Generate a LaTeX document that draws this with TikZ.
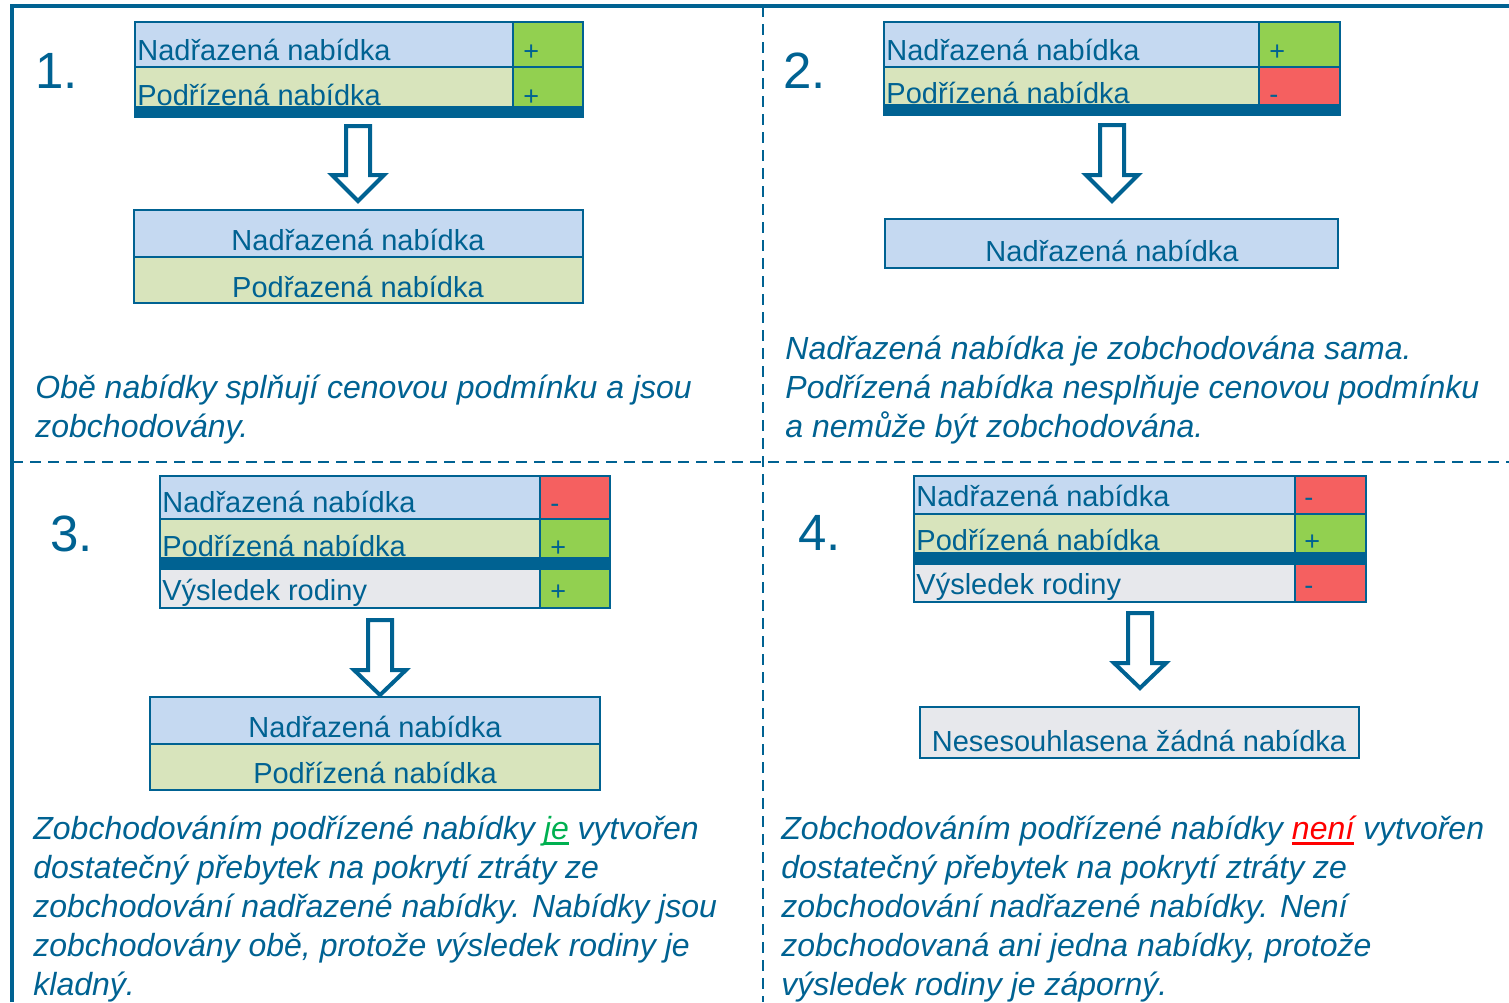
\documentclass[tikz,border=0pt]{standalone}
\usepackage{fontspec}
\setmainfont{Liberation Sans}
\usepackage{tikz}
\usetikzlibrary{calc}

\definecolor{navy}{RGB}{0,98,146}
\definecolor{rowblue}{RGB}{197,217,241}
\definecolor{rowgreen}{RGB}{216,228,188}
\definecolor{rowgrey}{RGB}{231,232,236}
\definecolor{plusgreen}{RGB}{146,208,80}
\definecolor{minusred}{RGB}{245,96,96}
\definecolor{okgreen}{RGB}{0,176,80}
\definecolor{nored}{RGB}{255,0,0}

% thick underline in the current colour
\newcommand{\markword}[1]{\setbox0\hbox{#1}\rlap{\rule[-2.4pt]{\wd0}{1.4pt}}\box0}

\tikzset{
  cell/.style={draw=navy, line width=1.2pt},
  rowtext/.style={anchor=base west, inner sep=0pt, text=navy, font=\fontsize{14.5}{17}\selectfont},
  midtext/.style={anchor=base, inner sep=0pt, text=navy, font=\fontsize{14.5}{17}\selectfont},
  signtext/.style={anchor=base west, inner sep=0pt, text=navy, font=\fontsize{13.5}{16}\selectfont},
  numtext/.style={anchor=base west, inner sep=0pt, text=navy, font=\fontsize{25.5}{30}\selectfont},
  caption/.style={anchor=base west, inner sep=0pt, text=navy, align=left, font=\fontsize{16}{19.4}\selectfont\itshape},
  blockarrow/.style={draw=navy, line width=2pt, fill=white, line join=miter},
  divider/.style={draw=navy, line width=1pt, dash pattern=on 5.5pt off 3.5pt}
}

\begin{document}
\begin{tikzpicture}[x=0.5pt, y=-0.5pt]
\useasboundingbox (0,0) rectangle (1509,1002);

% frame and dividers
\draw[divider] (763,6) -- (763,1002);
\draw[divider] (12,462) -- (1509,462);
\draw[draw=navy, line width=2pt] (12,1002) -- (12,6) -- (1509,6);

% numbers
\node[numtext] (num1) at (35,88) {1.};
\node[numtext] (num2) at (783,88) {2.};
\node[numtext] (num3) at (50,551) {3.};
\node[numtext] (num4) at (798,550) {4.};

% panel 1
\foreach \top/\bot/\base/\fillc/\signc/\txt/\sgn in {22/67/60/rowblue/plusgreen/Nadřazená nabídka/+, 67/107/105/rowgreen/plusgreen/Podřízená nabídka/+}
  {\filldraw[cell, fill=\fillc] (135,\top) rectangle (513,\bot);
   \filldraw[cell, fill=\signc] (513,\top) rectangle (583,\bot);
   \node[rowtext] (a\top) at (137,\base) {\txt};
   \node[signtext] (as\top) at (523,\base) {\sgn};}
\fill[navy] (134,107) rectangle (584,118);
\filldraw[cell, fill=rowblue] (134,210) rectangle (583,257);
\filldraw[cell, fill=rowgreen] (134,257) rectangle (583,303);
\node[midtext] (res1a) at (358,250) {Nadřazená nabídka};
\node[midtext] (res1b) at (358,297) {Podřazená nabídka};
\node[caption] (cap1) at (35,437) {Obě nabídky splňují cenovou podmínku a jsou\\zobchodovány.};

% panel 2
\foreach \top/\bot/\base/\fillc/\signc/\txt/\sgn in {22/67/60/rowblue/plusgreen/Nadřazená nabídka/+, 67/105/103/rowgreen/minusred/Podřízená nabídka/-}
  {\filldraw[cell, fill=\fillc] (884,\top) rectangle (1259,\bot);
   \filldraw[cell, fill=\signc] (1259,\top) rectangle (1340,\bot);
   \node[rowtext] (b\top) at (886,\base) {\txt};
   \node[signtext] (bs\top) at (1269,\base) {\sgn};}
\fill[navy] (883,105) rectangle (1341,116);
\filldraw[cell, fill=rowblue] (885,219) rectangle (1338,268);
\node[midtext] (res2a) at (1112,261) {Nadřazená nabídka};
\node[caption] (cap2) at (785,437) {Nadřazená nabídka je zobchodována sama.\\Podřízená nabídka nesplňuje cenovou podmínku\\a nemůže být zobchodována.};

% panel 3
\foreach \top/\bot/\base/\fillc/\signc/\txt/\sgn in {476/519/512/rowblue/minusred/Nadřazená nabídka/-, 519/558/556/rowgreen/plusgreen/Podřízená nabídka/+, 569/608/600/rowgrey/plusgreen/Výsledek rodiny/+}
  {\filldraw[cell, fill=\fillc] (160,\top) rectangle (540,\bot);
   \filldraw[cell, fill=\signc] (540,\top) rectangle (610,\bot);
   \node[rowtext] (c\top) at (162,\base) {\txt};
   \node[signtext] (cs\top) at (550,\base) {\sgn};}
\fill[navy] (159,558) rectangle (611,569);
\filldraw[cell, fill=rowblue] (150,697) rectangle (600,744);
\filldraw[cell, fill=rowgreen] (150,744) rectangle (600,790);
\node[midtext] (res3a) at (375,737) {Nadřazená nabídka};
\node[midtext] (res3b) at (375,783) {Podřízená nabídka};
\node[caption] (cap3) at (33,995) {Zobchodováním podřízené nabídky {\color{okgreen}\markword{je}} vytvořen\\dostatečný přebytek na pokrytí ztráty ze\\zobchodování nadřazené nabídky. Nabídky jsou\\zobchodovány obě, protože výsledek rodiny je\\kladný.};

% panel 4
\foreach \top/\bot/\base/\fillc/\signc/\txt/\sgn in {476/514/506/rowblue/minusred/Nadřazená nabídka/-, 514/553/550/rowgreen/plusgreen/Podřízená nabídka/+, 564/602/594/rowgrey/minusred/Výsledek rodiny/-}
  {\filldraw[cell, fill=\fillc] (914,\top) rectangle (1295,\bot);
   \filldraw[cell, fill=\signc] (1295,\top) rectangle (1366,\bot);
   \node[rowtext] (d\top) at (916,\base) {\txt};
   \node[signtext] (ds\top) at (1304,\base) {\sgn};}
\fill[navy] (913,553) rectangle (1367,564);
\filldraw[cell, fill=rowgrey] (920,707) rectangle (1359,758);
\node[midtext] (res4a) at (1139,751) {Nesesouhlasena žádná nabídka};
\node[caption] (cap4) at (781,995) {Zobchodováním podřízené nabídky {\color{nored}\markword{není}} vytvořen\\dostatečný přebytek na pokrytí ztráty ze\\zobchodování nadřazené nabídky. Není\\zobchodovaná ani jedna nabídky, protože\\výsledek rodiny je záporný.};

% block arrows
\foreach \cx/\t/\h/\p in {358/126/175/201, 1112/125/175/201, 380/620/670/695, 1140/613/663/688}
  \draw[blockarrow] (\cx-12,\t) -- (\cx+12,\t) -- (\cx+12,\h) -- (\cx+26,\h) -- (\cx,\p) -- (\cx-26,\h) -- (\cx-12,\h) -- cycle;
\end{tikzpicture}
\end{document}
